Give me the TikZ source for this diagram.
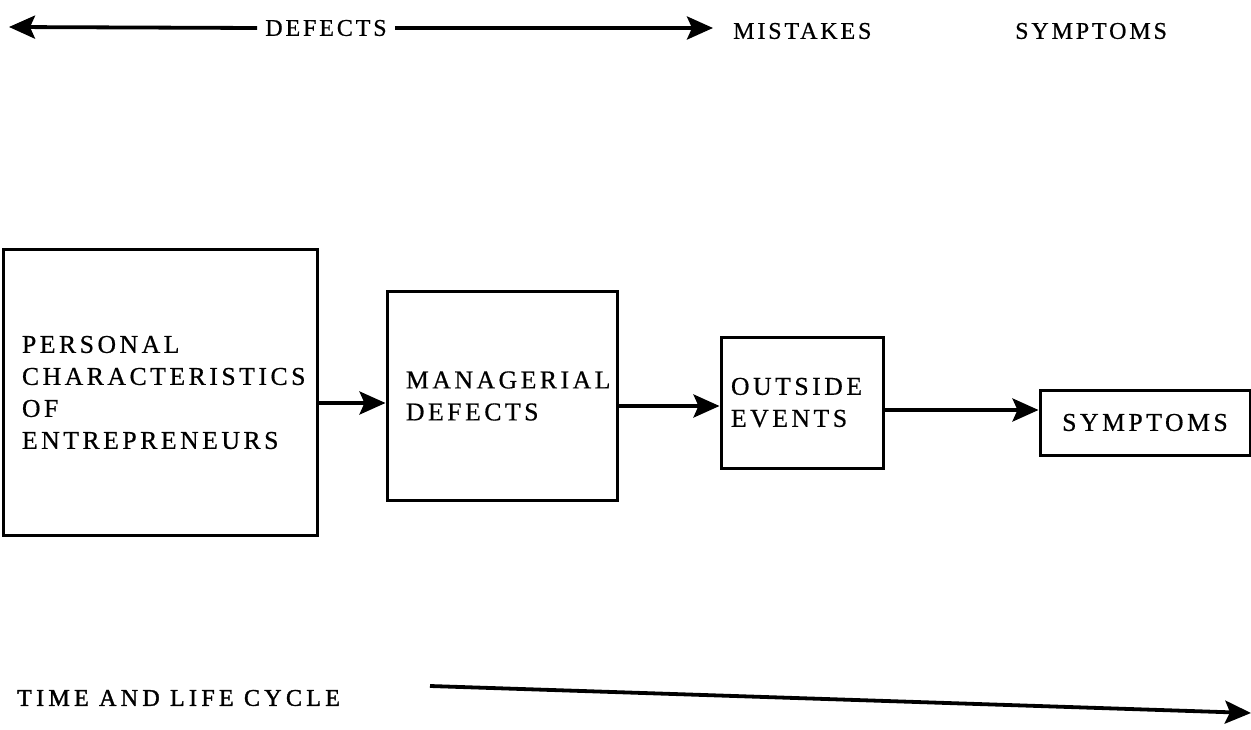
\documentclass[tikz,border=0pt]{standalone}
\usepackage{fontspec}
\setmainfont{Liberation Serif}[LetterSpace=13.7,FakeBold=0.6]
\newfontfamily\topfont{Liberation Serif}[LetterSpace=12,FakeBold=0.6]
\newfontfamily\bottomfont{Liberation Serif}[LetterSpace=18,FakeBold=1.4]
\usetikzlibrary{arrows.meta}
\begin{document}
\begin{tikzpicture}[x=1pt,y=-1pt,
  box/.style={draw,line width=3pt,align=left,inner ysep=0pt,font=\fontsize{25.7}{32}\selectfont},
  lbl/.style={inner sep=0pt,font=\topfont\fontsize{24}{28}\selectfont},
  arr/.style={line width=3.8pt,-{Stealth[length=26pt,width=23pt,inset=5pt]}}]
\useasboundingbox (0,0) rectangle (1251,730);
% boxes
\node[box,text width=276pt,inner xsep=19pt,minimum height=285pt] (B1) at (160,392.5)
  {PERSONAL\\CHARACTERISTICS\\OF\\ENTREPRENEURS};
\node[box,text width=192pt,inner xsep=19pt,minimum height=208pt] (B2) at (502,396)
  {MANAGERIAL\\DEFECTS};
\node[box,text width=142pt,inner xsep=10pt,minimum height=131pt] (B3) at (802,402.5)
  {OUTSIDE\\EVENTS};
\node[box,align=center,minimum width=210pt,minimum height=65pt] (B4) at (1145,422.5)
  {SYMPTOMS};
% connectors
\draw[arr] (B1.east |- 0,403) -- (B2.west |- 0,403);
\draw[arr] (B2.east |- 0,406) -- (B3.west |- 0,406);
\draw[arr] (B3.east |- 0,410) -- (B4.west |- 0,410);
% top line
\node[lbl] (DEF) at (326,28) {DEFECTS};
\node[lbl,anchor=west] (MIS) at (733,31) {MISTAKES};
\node[lbl,anchor=west] (SYM) at (1015,31) {SYMPTOMS};
\coordinate (TL) at (9,27);
\coordinate (TR) at (713,28);
\draw[arr] ([xshift=-8pt]DEF.west) -- (TL);
\draw[arr] ([xshift=8pt]DEF.east) -- (TR);
% bottom
\node[anchor=west,inner sep=0pt,font=\bottomfont\fontsize{24}{28}\selectfont] (TIME) at (17,698) {TIME AND LIFE CYCLE};
\coordinate (BS) at (430,686);
\coordinate (BE) at (1251,713);
\draw[arr] (BS) -- (BE);
\end{tikzpicture}
\end{document}
